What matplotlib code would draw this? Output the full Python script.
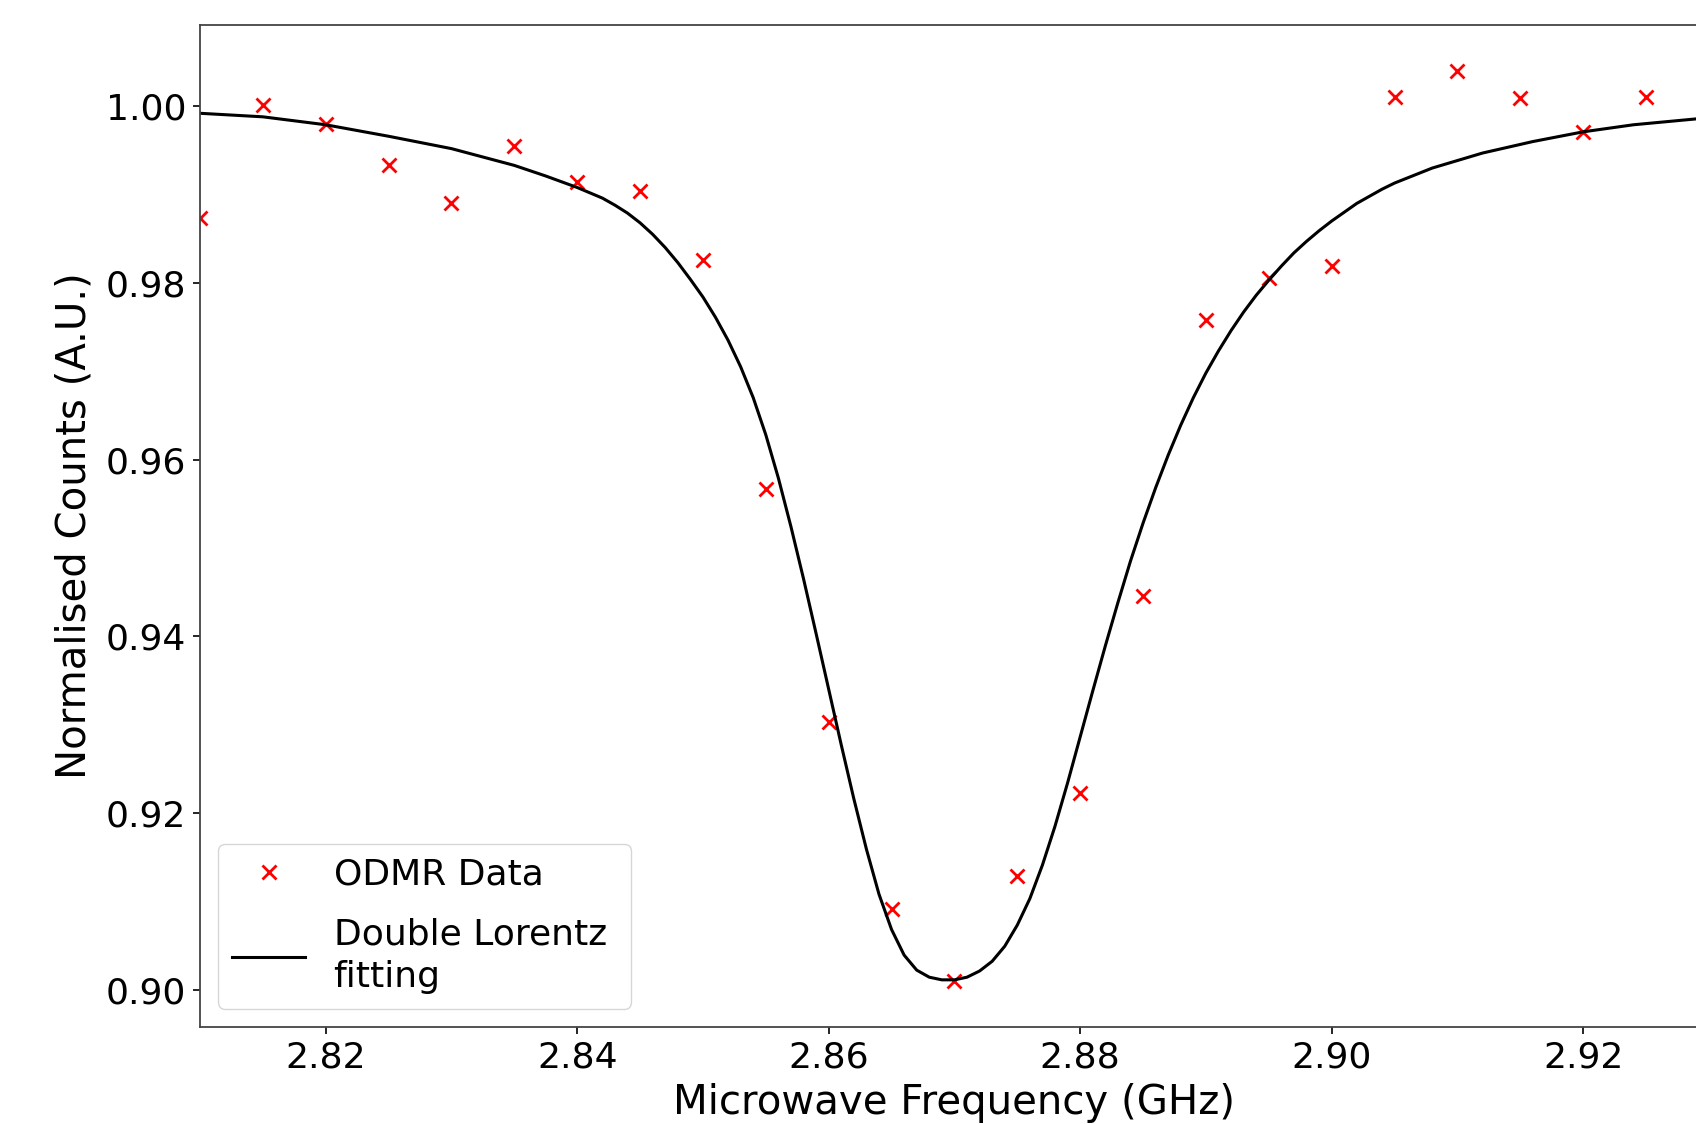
import matplotlib
matplotlib.use("Agg")
import matplotlib.pyplot as plt

# measured ODMR points (GHz, normalised counts)
freq = [2.810, 2.815, 2.820, 2.825, 2.830, 2.835, 2.840, 2.845, 2.850, 2.855,
        2.860, 2.865, 2.870, 2.875, 2.880, 2.885, 2.890, 2.895, 2.900, 2.905,
        2.910, 2.915, 2.920, 2.925]
counts = [0.9873, 1.0001, 0.9980, 0.9933, 0.9891, 0.9955, 0.9914, 0.9904, 0.9826, 0.9567,
          0.9303, 0.9091, 0.9010, 0.9129, 0.9223, 0.9445, 0.9758, 0.9805, 0.9819, 1.0011,
          1.0040, 1.0009, 0.9971, 1.0011]

# fitted curve
fit_freq = [2.810, 2.815, 2.820, 2.825, 2.830, 2.835, 2.8375, 2.840, 2.841, 2.842,
            2.843, 2.844, 2.845, 2.846, 2.847, 2.848, 2.849, 2.850, 2.851, 2.852,
            2.853, 2.854, 2.855, 2.856, 2.857, 2.858, 2.859, 2.860, 2.861, 2.862,
            2.863, 2.864, 2.865, 2.866, 2.867, 2.868, 2.869, 2.870, 2.871, 2.872,
            2.873, 2.874, 2.875, 2.876, 2.877, 2.878, 2.879, 2.880, 2.881, 2.882,
            2.883, 2.884, 2.885, 2.886, 2.887, 2.888, 2.889, 2.890, 2.891, 2.892,
            2.893, 2.894, 2.895, 2.896, 2.897, 2.898, 2.899, 2.900, 2.901, 2.902,
            2.903, 2.904, 2.905, 2.908, 2.912, 2.916, 2.920, 2.924, 2.930]
fit_counts = [0.9992, 0.9988, 0.9979, 0.9966, 0.9952, 0.9933, 0.9921, 0.9908, 0.9902, 0.9896,
              0.9888, 0.9879, 0.9868, 0.9855, 0.9840, 0.9823, 0.9804, 0.9784, 0.9761, 0.9735,
              0.9705, 0.9670, 0.9628, 0.9579, 0.9524, 0.9465, 0.9403, 0.9340, 0.9277, 0.9216,
              0.9159, 0.9108, 0.9068, 0.9039, 0.9022, 0.9014, 0.9011, 0.9011, 0.9014, 0.9021,
              0.9032, 0.9049, 0.9073, 0.9103, 0.9141, 0.9185, 0.9234, 0.9286, 0.9338, 0.9389,
              0.9438, 0.9485, 0.9528, 0.9568, 0.9605, 0.9639, 0.9670, 0.9698, 0.9723, 0.9746,
              0.9767, 0.9786, 0.9803, 0.9819, 0.9834, 0.9847, 0.9859, 0.9870, 0.9880, 0.9890,
              0.9898, 0.9906, 0.9913, 0.9930, 0.9947, 0.9960, 0.9971, 0.9979, 0.9987]

fig = plt.figure(figsize=(16.96, 11.24), dpi=100)
ax = fig.add_axes([0.1179, 0.0866, 0.8897, 0.8912])

ax.plot(freq, counts, linestyle='none', marker='x', color='red',
        markersize=10, markeredgewidth=2, label='ODMR Data')
ax.plot(fit_freq, fit_counts, color='black', linewidth=2.2,
        label='Double Lorentz\nfitting')

ax.set_xlim(2.81, 2.93)
ax.set_ylim(0.8958, 1.0092)
ax.set_xticks([2.82, 2.84, 2.86, 2.88, 2.90, 2.92])
ax.set_yticks([0.90, 0.92, 0.94, 0.96, 0.98, 1.00])
ax.set_xticklabels(['2.82', '2.84', '2.86', '2.88', '2.90', '2.92'])
ax.set_yticklabels(['0.90', '0.92', '0.94', '0.96', '0.98', '1.00'])
ax.tick_params(labelsize=26, length=5, width=1.2, pad=5)
for s in ax.spines.values():
    s.set_linewidth(1.3)
    s.set_color('#444444')

ax.set_xlabel('Microwave Frequency (GHz)', fontsize=29, labelpad=6)
ax.set_ylabel('Normalised Counts (A.U.)', fontsize=29, labelpad=8)
leg = ax.legend(loc='lower left', fontsize=26, labelspacing=0.7,
                bbox_to_anchor=(0.0, 0.0, 0.2976, 0.3), mode='expand')
leg.get_texts()[1].set_linespacing(1.33)

fig.savefig('out.png', dpi=100)
